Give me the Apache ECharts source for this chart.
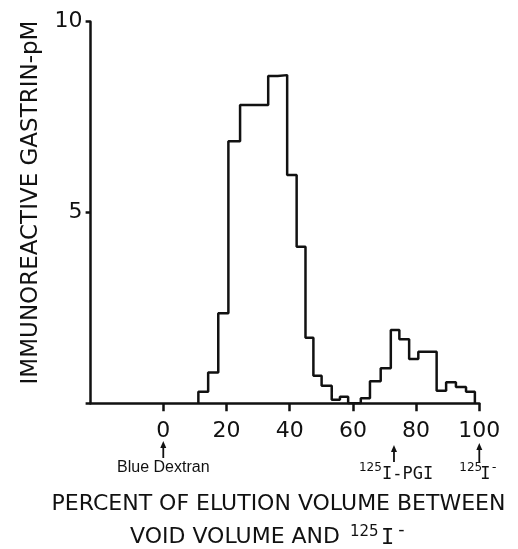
<!DOCTYPE html>
<html>
<head>
<meta charset="utf-8">
<script src="https://cdn.jsdelivr.net/npm/echarts@6/dist/echarts.min.js"></script>
<style>
  html, body { margin: 0; padding: 0; background: #fff; }
  #chart { width: 518px; height: 549px; }
</style>
</head>
<body>
<div id="chart"></div>
<script>
// Elution profile: left edge of each fraction (% of elution volume) and gastrin level (pM)
var binStart = [11.1, 14.2, 17.4, 20.6, 24.3, 27.3, 30.3, 33.2, 36.2, 39.2, 42.2, 45.0, 47.5, 50.1,
                53.3, 55.9, 58.5, 62.5, 65.4, 68.8, 72.0, 74.7, 77.8, 80.7, 83.6, 86.5, 89.5, 92.6, 95.8];
var binEnd = 98.6;
var gastrin = [0.30, 0.81, 2.36, 6.87, 7.82, 7.82, 7.82, 8.58, 8.60, 5.98, 4.10, 1.72, 0.72, 0.46,
               0.09, 0.17, 0.00, 0.13, 0.58, 0.92, 1.92, 1.68, 1.16, 1.35, 1.35, 0.33, 0.55, 0.43, 0.30];
var xTicks = [0, 20, 40, 60, 80, 100];
var yTicks = [5, 10];
// Marker positions along the elution axis
var markers = [
  { name: 'Blue Dextran', at: 0 },
  { name: '125I-PGI', at: 73 },
  { name: '125I-', at: 100 }
];

var INK = '#111';
var SANS = '"DejaVu Sans", sans-serif';
var MONO = '"DejaVu Sans Mono", monospace';

var stepData = [[binStart[0], 0]];
for (var i = 0; i < binStart.length; i++) stepData.push([binStart[i], gastrin[i]]);
stepData.push([binEnd, 0]);

var chart = echarts.init(document.getElementById('chart'), null, { renderer: 'canvas' });

chart.setOption({
  animation: false,
  backgroundColor: '#fff',
  grid: { left: 90.6, right: 38.7, top: 21.7, bottom: 145.7, containLabel: false },
  xAxis: {
    type: 'value', min: -23, max: 100,
    axisLine: { show: true, onZero: false, lineStyle: { color: INK, width: 2.5 } },
    axisTick: { show: true, customValues: xTicks, length: 8, lineStyle: { color: INK, width: 2.5 } },
    axisLabel: { show: true, customValues: xTicks, margin: 17, color: INK, fontFamily: SANS, fontSize: 22 },
    splitLine: { show: false }
  },
  yAxis: {
    type: 'value', min: 0, max: 10, interval: 5,
    axisLine: { show: true, onZero: false, lineStyle: { color: INK, width: 2.5 } },
    axisTick: { show: true, length: 5, lineStyle: { color: INK, width: 2.5 } },
    axisLabel: {
      show: true, margin: 8, color: INK, fontFamily: SANS, fontSize: 22,
      formatter: function (v) { return yTicks.indexOf(v) >= 0 ? String(v) : ''; }
    },
    splitLine: { show: false }
  },
  series: [{
    type: 'line',
    step: 'end',
    data: stepData,
    showSymbol: false,
    lineStyle: { color: INK, width: 2.5 },
    z: 3
  }]
});

function px(v) { return chart.convertToPixel({ xAxisIndex: 0 }, v); }

function arrow(x, yTop, yBottom) {
  return [
    { type: 'line', shape: { x1: x, y1: yTop + 5, x2: x, y2: yBottom }, style: { stroke: INK, lineWidth: 1.8 } },
    { type: 'polygon', shape: { points: [[x, yTop], [x - 3, yTop + 7], [x + 3, yTop + 7]] }, style: { fill: INK } }
  ];
}

function txt(x, y, s, font, size, align) {
  return {
    type: 'text', x: x, y: y,
    style: { text: s, fill: INK, font: size + 'px ' + font, align: align || 'left', verticalAlign: 'middle' }
  };
}

var g = [];
var x0 = px(markers[0].at), x1 = px(markers[1].at), x2 = px(markers[2].at);

// Blue Dextran (void volume)
g = g.concat(arrow(x0, 441, 458));
g.push(txt(x0, 467.5, 'Blue Dextran', '"Liberation Sans", Arial, sans-serif', 16, 'center'));

// 125I-PGI
g = g.concat(arrow(x1, 445, 462));
g.push(txt(x1 - 35, 467.5, '125', SANS, 12, 'left'));
g.push(txt(x1 - 12, 475, 'I-PGI', MONO, 17, 'left'));

// 125I-
g = g.concat(arrow(x2, 443, 462));
g.push(txt(x2 - 20, 467.5, '125', SANS, 12, 'left'));
g.push(txt(x2 + 1, 475, 'I', MONO, 17, 'left'));
g.push(txt(x2 + 11, 468, '-', MONO, 13, 'left'));

// Axis titles
g.push({
  type: 'text', x: 31, y: 202.5, rotation: Math.PI / 2,
  style: { text: 'IMMUNOREACTIVE GASTRIN-pM', fill: INK, font: '23px ' + SANS, align: 'center', verticalAlign: 'middle' }
});
g.push(txt(278.5, 504.5, 'PERCENT OF ELUTION VOLUME BETWEEN', SANS, 22, 'center'));
g.push(txt(130, 537.5, 'VOID VOLUME AND', SANS, 22, 'left'));
g.push(txt(350, 532, '125', SANS, 15, 'left'));
g.push(txt(381, 538, 'I', MONO, 22, 'left'));
g.push(txt(396, 530, '-', MONO, 18, 'left'));

chart.setOption({ graphic: g });
</script>
</body>
</html>
